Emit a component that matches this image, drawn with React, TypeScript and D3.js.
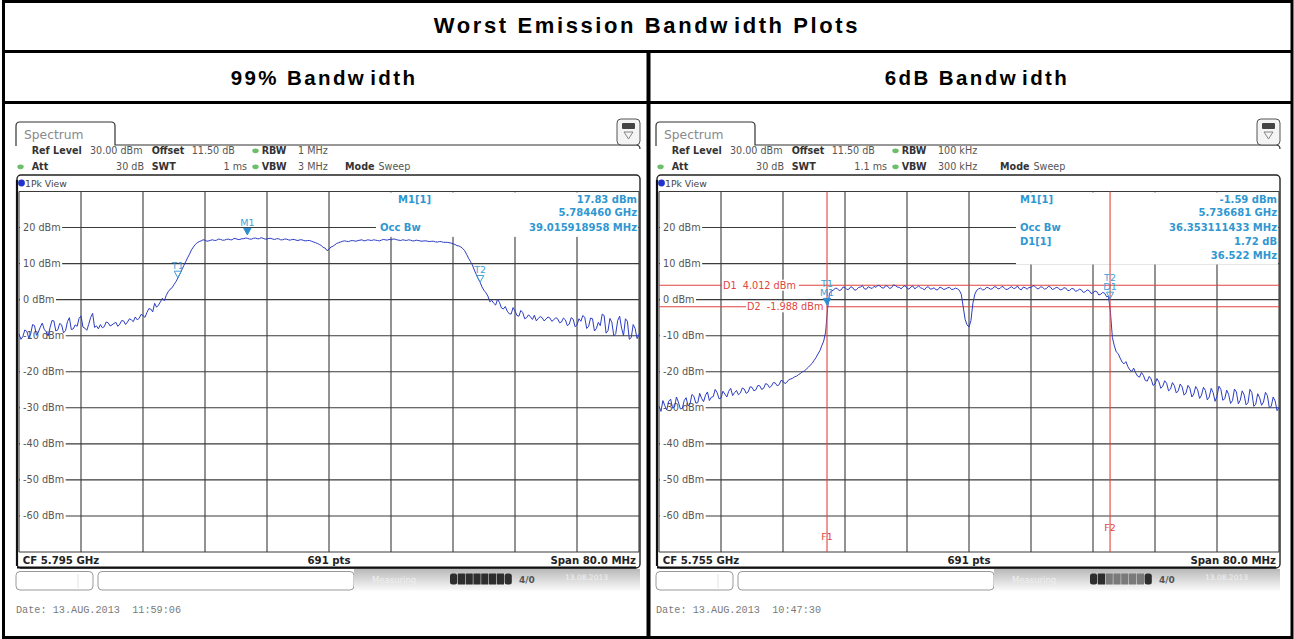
import React from "react";
import * as d3 from "d3";

// ---------- data ----------
const titleText = ["Worst Emission Bandw", "idth Plots"];
const columnTitles = [["99% Bandw", "idth"], ["6dB Bandw", "idth"]];
const yTickValues = [20, 10, 0, -10, -20, -30, -40, -50, -60];
const levelRange = [-70, 30];
const spanMHz = [-40, 40];
const stepMHz = 0.25;
const xDivisions = 10;

// 99% bandwidth trace (dBm), CF 5.795 GHz, every 0.25 MHz from -40 to +40 MHz
const trace99 = [
  -9.5, -11.0, -10.2, -8.4, -8.8, -10.6, -9.6, -6.9, -7.2, -9.9,
  -9.0, -7.6, -6.5, -8.2, -8.9, -10.1, -7.8, -5.8, -5.9, -8.7,
  -8.4, -6.6, -7.0, -9.2, -8.6, -6.1, -5.0, -8.3, -8.1, -7.0,
  -7.4, -5.2, -4.5, -7.6, -7.9, -8.5, -6.8, -4.9, -3.8, -7.7,
  -7.3, -8.1, -6.9, -7.8, -7.5, -6.2, -6.4, -7.3, -7.0, -6.6,
  -6.3, -7.4, -6.8, -5.8, -5.9, -6.9, -6.2, -5.3, -5.6, -6.1,
  -4.8, -5.6, -5.2, -4.1, -4.4, -4.9, -3.6, -2.5, -2.6, -3.4,
  -1.0, -2.1, -1.5, -0.6, 0.4, -0.3, 1.2, 2.2, 2.9, 3.3,
  4.2, 5.0, 6.0, 7.1, 8.2, 9.4, 10.5, 11.6, 12.6, 13.8,
  14.6, 15.3, 15.8, 16.1, 16.3, 16.6, 16.5, 16.2, 16.3, 16.5,
  16.6, 16.4, 16.5, 16.8, 16.7, 16.5, 16.5, 16.7, 16.8, 16.6,
  16.6, 17.0, 16.9, 16.7, 16.7, 16.9, 16.9, 17.1, 17.0, 16.8,
  16.8, 17.0, 17.1, 16.9, 16.9, 17.2, 17.0, 16.8, 16.8, 17.0,
  17.0, 16.8, 16.7, 16.9, 16.9, 16.6, 16.6, 16.8, 16.8, 16.6,
  16.5, 16.7, 16.7, 16.5, 16.4, 16.6, 16.6, 16.4, 16.3, 16.4,
  16.4, 16.2, 16.0, 15.8, 15.6, 15.3, 15.0, 14.5, 14.3, 13.6,
  14.0, 14.6, 14.8, 15.2, 15.6, 15.8, 16.0, 16.2, 16.3, 16.2,
  16.1, 16.3, 16.4, 16.3, 16.2, 16.4, 16.5, 16.6, 16.3, 16.4,
  16.6, 16.5, 16.4, 16.6, 16.5, 16.4, 16.3, 16.5, 16.7, 16.6,
  16.5, 16.7, 16.6, 16.8, 16.8, 16.6, 16.5, 16.4, 16.6, 16.5,
  16.4, 16.6, 16.5, 16.3, 16.3, 16.5, 16.4, 16.3, 16.2, 16.3,
  16.3, 16.2, 16.1, 16.2, 16.2, 16.0, 16.0, 16.1, 16.1, 15.9,
  15.9, 15.9, 15.8, 15.7, 15.5, 15.3, 15.0, 14.9, 14.6, 14.2,
  13.6, 12.6, 11.5, 10.6, 9.6, 8.2, 7.0, 5.8, 4.8, 3.5,
  2.6, 1.9, 1.0, -0.6, -0.2, -1.0, -1.5, 0.1, -0.8, -2.3,
  -2.6, -1.9, -3.2, -3.9, -4.0, -2.2, -3.1, -4.4, -4.6, -3.0,
  -3.6, -5.3, -5.0, -4.2, -4.8, -5.5, -4.3, -5.9, -5.2, -4.7,
  -5.0, -5.9, -5.4, -4.8, -5.1, -6.0, -5.6, -5.0, -5.3, -6.4,
  -6.2, -5.1, -5.6, -7.2, -6.8, -5.0, -5.4, -7.5, -7.0, -5.3,
  -6.0, -4.4, -4.9, -8.0, -7.4, -5.1, -5.3, -8.7, -8.0, -6.3,
  -7.2, -4.0, -4.4, -9.3, -8.6, -5.2, -6.3, -10.1, -9.4, -5.8,
  -4.6, -7.9, -10.0, -5.3, -6.0, -11.0, -10.5, -6.9, -8.0, -10.8,
  -9.6,
];

// 6 dB bandwidth trace (dBm), CF 5.755 GHz, every 0.25 MHz from -40 to +40 MHz
const trace6dB = [
  -29.5, -31.0, -28.0, -29.4, -30.6, -28.2, -27.6, -30.1, -29.8, -27.0,
  -28.4, -30.3, -30.2, -28.0, -27.2, -29.5, -28.9, -26.3, -26.8, -28.7,
  -28.6, -26.0, -27.4, -28.3, -26.5, -25.6, -28.0, -27.1, -26.9, -24.9,
  -25.8, -27.5, -27.3, -25.4, -26.2, -27.0, -25.4, -24.6, -26.6, -25.8,
  -25.2, -26.4, -25.9, -24.5, -24.8, -26.0, -25.6, -24.2, -24.3, -25.3,
  -25.0, -23.8, -23.9, -24.9, -24.6, -23.3, -23.5, -24.4, -24.0, -23.0,
  -23.1, -23.9, -23.6, -22.4, -22.6, -23.3, -22.9, -22.2, -22.0, -21.8,
  -21.4, -21.2, -20.8, -20.5, -20.0, -19.8, -19.3, -18.8, -18.2, -17.7,
  -16.9, -16.1, -15.1, -14.2, -12.8, -11.5, -9.0, -2.5, 1.8, 2.4,
  2.6, 3.2, 3.1, 2.5, 2.7, 3.5, 3.4, 2.8, 2.9, 3.6,
  3.3, 2.6, 2.8, 3.4, 3.5, 3.9, 3.0, 2.9, 3.6, 3.3,
  3.1, 3.7, 3.4, 4.0, 3.8, 3.3, 3.2, 3.9, 3.7, 3.1,
  3.3, 4.1, 3.9, 3.5, 3.4, 3.0, 3.6, 3.9, 3.2, 2.9,
  3.5, 3.8, 3.0, 3.4, 3.8, 3.3, 3.1, 2.7, 3.4, 3.6,
  2.9, 3.0, 3.3, 2.7, 2.8, 3.5, 3.2, 2.8, 3.0, 3.3,
  3.4, 2.8, 2.9, 3.2, 3.0, 2.6, 1.5, -2.0, -5.5, -7.0,
  -7.6, -5.8, -1.0, 1.5, 2.6, 3.0, 3.2, 2.7, 2.8, 3.4,
  3.3, 2.9, 3.0, 3.6, 3.5, 3.0, 3.1, 3.7, 3.4, 2.8,
  2.9, 3.3, 3.6, 3.1, 3.2, 3.8, 3.0, 2.7, 3.5, 3.3,
  2.9, 3.4, 3.3, 3.9, 3.7, 3.1, 3.0, 3.6, 3.4, 2.9,
  3.1, 3.7, 3.5, 2.8, 3.0, 3.4, 3.3, 2.7, 2.8, 3.3,
  3.2, 2.5, 2.6, 3.1, 3.0, 2.3, 2.5, 2.9, 2.7, 2.0,
  2.2, 2.7, 2.5, 1.7, 1.9, 2.4, 2.2, 1.3, 1.5, 2.0,
  1.8, 0.8, 0.9, -3.5, -10.5, -12.8, -14.5, -15.0, -16.2, -17.3,
  -17.8, -17.2, -18.6, -19.5, -19.9, -19.0, -20.3, -21.2, -21.5, -20.2,
  -21.0, -22.4, -22.6, -21.3, -22.0, -23.8, -23.4, -21.9, -22.8, -24.6,
  -24.0, -22.5, -23.2, -25.3, -24.8, -23.0, -23.9, -25.9, -25.3, -23.4,
  -24.2, -26.5, -25.9, -23.8, -24.6, -27.0, -26.2, -24.1, -25.0, -27.4,
  -26.5, -24.3, -25.2, -27.8, -27.0, -24.6, -25.8, -28.2, -26.8, -24.0,
  -24.9, -27.9, -27.5, -25.1, -26.3, -28.8, -28.0, -24.8, -25.6, -28.9,
  -27.9, -25.3, -26.4, -29.2, -28.6, -24.9, -25.8, -29.6, -29.0, -26.1,
  -27.2, -29.3, -28.4, -25.7, -26.6, -30.0, -29.6, -27.0, -28.1, -30.8,
  -29.9,
];

// markers
const markers99 = [
  { labels: ["M1"], f: -10.54, level: 17.83, filled: true },
  { labels: ["T1"], f: -19.51, level: null, filled: false },
  { labels: ["T2"], f: 19.51, level: null, filled: false },
];
const markers6dB = [
  { labels: ["T1", "M1"], f: -18.32, level: -1.59, filled: true },
  { labels: ["T2", "D1"], f: 18.2, level: 0.13, filled: false },
];
const displayLines6dB = [
  { name: "D1", level: 4.012, text: "D1  4.012 dBm" },
  { name: "D2", level: -1.988, text: "D2  -1.988 dBm" },
];
const freqLines6dB = [
  { name: "F1", f: -18.32 },
  { name: "F2", f: 18.2 },
];

const info99 = [
  { left: "M1[1]", right: "17.83 dBm" },
  { left: "", right: "5.784460 GHz" },
  { left: "Occ Bw", right: "39.015918958 MHz" },
];
const info6dB = [
  { left: "M1[1]", right: "-1.59 dBm" },
  { left: "", right: "5.736681 GHz" },
  { left: "Occ Bw", right: "36.353111433 MHz" },
  { left: "D1[1]", right: "1.72 dB" },
  { left: "", right: "36.522 MHz" },
];

const setup99 = {
  refLevel: "30.00 dBm", att: "30 dB", offset: "11.50 dB", swt: "1 ms",
  rbw: "1 MHz", vbw: "3 MHz", cf: "CF 5.795 GHz", pts: "691 pts",
  span: "Span 80.0 MHz", date: "Date: 13.AUG.2013  11:59:06",
};
const setup6dB = {
  refLevel: "30.00 dBm", att: "30 dB", offset: "11.50 dB", swt: "1.1 ms",
  rbw: "100 kHz", vbw: "300 kHz", cf: "CF 5.755 GHz", pts: "691 pts",
  span: "Span 80.0 MHz", date: "Date: 13.AUG.2013  10:47:30",
};

// ---------- helpers ----------
const SANS = "'DejaVu Sans', Verdana, sans-serif";
const widths: Record<string, number> = {
  "0": 0.636, "1": 0.636, "2": 0.636, "3": 0.636, "4": 0.636, "5": 0.636,
  "6": 0.636, "7": 0.636, "8": 0.636, "9": 0.636, " ": 0.318, ".": 0.318,
  "-": 0.361, d: 0.635, B: 0.686, m: 0.974, D: 0.77,
};
function textW(s: string, size: number) {
  let w = 0;
  for (const c of s) w += widths[c] ?? 0.62;
  return w * size;
}
function valueAt(trace: number[], f: number) {
  const idx = (f - spanMHz[0]) / stepMHz;
  const i0 = Math.max(0, Math.min(trace.length - 2, Math.floor(idx)));
  const t = idx - i0;
  return trace[i0] * (1 - t) + trace[i0 + 1] * t;
}

const TRACE = "#2b3cc4";
const MARK = "#3f9fd6";
const RED = "#e0453f";
const INFO = "#2f97d2";

type PanelProps = {
  ox: number;
  trace: number[];
  setup: typeof setup99;
  info: { left: string; right: string }[];
  infoLeftX: number;
  infoM1X: number;
  infoBoxLeft: number;
  markers: typeof markers99;
  showLines: boolean;
  progressDark: number;
  modeX: number;
};

function Panel(p: PanelProps) {
  const { ox } = p;
  const x0 = 19 + ox;
  const x1 = 639 + ox;
  const yTop = 191.5;
  const yBot = 552;
  const xs = d3.scaleLinear().domain(spanMHz).range([x0, x1]);
  const ys = d3.scaleLinear().domain(levelRange).range([yBot, yTop]);
  const line = d3
    .line<number>()
    .x((_, i) => xs(spanMHz[0] + stepMHz * i))
    .y((d) => ys(d));
  const vGrid = d3.range(xDivisions + 1).map((k) => spanMHz[0] + (k * (spanMHz[1] - spanMHz[0])) / xDivisions);
  const hGrid = d3.range(levelRange[0], levelRange[1] + 1, 10);
  const infoBottom = yTop + 4 + p.info.length * 13.8;
  const s = p.setup;
  const hdrBold = { fontFamily: SANS, fontSize: 9.6, fontWeight: 700, fill: "#333" } as const;
  const hdrVal = { fontFamily: SANS, fontSize: 9.6, fill: "#555" } as const;
  const gid = `grad${ox}`;
  const infoStyle = { fontFamily: SANS, fontSize: 10, fontWeight: 700, fill: INFO } as const;

  return (
    <g>
      <defs>
        <linearGradient id={gid} x1="0" y1="0" x2="0" y2="1">
          <stop offset="0" stopColor="#b9b9b9" />
          <stop offset="0.55" stopColor="#dedede" />
          <stop offset="1" stopColor="#fbfbfb" />
        </linearGradient>
      </defs>
      {/* tab + header */}
      <path
        d={`M${ox + 16},146 L${ox + 16},126 Q${ox + 16},122 ${ox + 20},122 L${ox + 111},122 Q${ox + 115},122 ${ox + 115},126 L${ox + 115},145 L${ox + 636},145 Q${ox + 640},145 ${ox + 640},149`}
        fill="none"
        stroke="#333"
        strokeWidth={1.2}
      />
      <text x={ox + 24} y={138.5} style={{ fontFamily: SANS, fontSize: 12.3, fill: "#8a8a8a" }}>
        Spectrum
      </text>
      {/* icon */}
      <rect x={ox + 617} y={119} width={23} height={26} rx={4} fill="#f4f4f4" stroke="#555" strokeWidth={1} />
      <rect x={ox + 622} y={123} width={13} height={6} rx={1} fill="#444" />
      <path d={`M${ox + 624},132 L${ox + 633},132 L${ox + 628.5},139 Z`} fill="none" stroke="#777" strokeWidth={0.9} />

      <text x={ox + 31.7} y={154} style={hdrBold}>Ref Level</text>
      <text x={ox + 90} y={154} style={hdrVal}>{s.refLevel}</text>
      <text x={ox + 151.7} y={154} style={hdrBold}>Offset</text>
      <text x={ox + 191.7} y={154} style={hdrVal}>{s.offset}</text>
      <text x={ox + 261.7} y={154} style={hdrBold}>RBW</text>
      <text x={ox + 298} y={154} style={hdrVal}>{s.rbw}</text>
      <text x={ox + 31.7} y={170} style={hdrBold}>Att</text>
      <text x={ox + 144} y={170} textAnchor="end" style={hdrVal}>{s.att}</text>
      <text x={ox + 151.7} y={170} style={hdrBold}>SWT</text>
      <text x={ox + 247} y={170} textAnchor="end" style={hdrVal}>{s.swt}</text>
      <text x={ox + 261.7} y={170} style={hdrBold}>VBW</text>
      <text x={ox + 298} y={170} style={hdrVal}>{s.vbw}</text>
      <text x={p.modeX} y={170} style={hdrBold}>Mode</text>
      <text x={p.modeX + 33.5} y={170} style={hdrVal}>Sweep</text>
      {[[ox + 255.5, 150.8], [ox + 255.5, 166.8], [ox + 20.5, 166.8]].map(([cx, cy], i) => (
        <ellipse key={i} cx={cx} cy={cy} rx={3.2} ry={2.4} fill="#6cbf6a" />
      ))}

      {/* plot frame */}
      <rect x={ox + 17} y={175} width={623} height={393} rx={4} fill="#fff" stroke="#222" strokeWidth={1.4} />
      <line x1={ox + 17} y1={567.5} x2={ox + 636} y2={567.5} stroke="#111" strokeWidth={2} />
      <line x1={ox + 17} y1={180} x2={ox + 17} y2={566} stroke="#111" strokeWidth={2.2} />
      <circle cx={ox + 21.5} cy={183} r={3.4} fill="#2233cc" />
      <text x={ox + 25} y={186.5} style={{ fontFamily: SANS, fontSize: 9.3, fill: "#444" }}>1Pk View</text>

      {/* grid */}
      {vGrid.map((v) => (
        <line key={`v${v}`} x1={xs(v)} x2={xs(v)} y1={yTop} y2={yBot} stroke="#3a3a3a" strokeWidth={1.1} />
      ))}
      {hGrid.map((v) => (
        <line key={`h${v}`} x1={x0} x2={x1} y1={ys(v)} y2={ys(v)} stroke="#3a3a3a" strokeWidth={1.1} />
      ))}
      {/* y labels */}
      {yTickValues.map((v) => {
        const t = `${v} dBm`;
        return (
          <g key={`yl${v}`}>
            <rect x={x0 + 1} y={ys(v) - 6} width={textW(t, 9.7) + 4.5} height={12} fill="#fff" />
            <text x={x0 + 4} y={ys(v) + 3.4} style={{ fontFamily: SANS, fontSize: 9.7, fill: "#555" }}>
              {t}
            </text>
          </g>
        );
      })}

      {/* info box */}
      <rect x={p.infoBoxLeft} y={yTop + 1} width={x1 - p.infoBoxLeft - 1} height={infoBottom - yTop - 1} fill="#fff" />
      {p.info.map((r, i) => {
        const yy = yTop + 11 + i * 13.8 + (i >= 2 ? 1 : 0);
        return (
          <g key={`inf${i}`}>
            {r.left && (
              <text x={r.left === "M1[1]" ? p.infoM1X : p.infoLeftX} y={yy} style={infoStyle}>
                {r.left}
              </text>
            )}
            <text x={x1 - 2} y={yy} textAnchor="end" style={infoStyle}>
              {r.right}
            </text>
          </g>
        );
      })}

      {/* display lines */}
      {p.showLines &&
        displayLines6dB.map((d, k) => {
          const yy = ys(d.level);
          const lx = k === 0 ? x0 + 64 : x0 + 88;
          const tw = textW(d.text, 9.7) + 4;
          return (
            <g key={d.name}>
              <line x1={x0} x2={x1} y1={yy} y2={yy} stroke={RED} strokeWidth={1.1} />
              <rect x={lx - 1} y={yy - 5.5} width={tw} height={11} fill="#fff" />
              <text x={lx} y={yy + 3.4} style={{ fontFamily: SANS, fontSize: 9.7, fill: RED, whiteSpace: "pre" }}>
                {d.text}
              </text>
            </g>
          );
        })}

      {/* trace */}
      <path d={line(p.trace) || ""} fill="none" stroke={TRACE} strokeWidth={1} strokeLinejoin="round" />

      {p.showLines &&
        freqLines6dB.map((fl, k) => (
          <g key={fl.name}>
            <line x1={xs(fl.f)} x2={xs(fl.f)} y1={yTop} y2={yBot} stroke={RED} strokeWidth={1.1} />
            <text
              x={xs(fl.f)}
              y={k === 0 ? 540 : 531}
              textAnchor="middle"
              style={{ fontFamily: SANS, fontSize: 9.5, fill: RED }}
            >
              {fl.name}
            </text>
          </g>
        ))}

      {/* markers */}
      {p.markers.map((m, k) => {
        const v = m.level ?? valueAt(p.trace, m.f);
        const mx = xs(m.f);
        const tip = ys(v) - 0.5;
        return (
          <g key={`m${k}`}>
            <path
              d={`M${mx - 3.6},${tip - 6.5} L${mx + 3.6},${tip - 6.5} L${mx},${tip} Z`}
              fill={m.filled ? "#2a8fd2" : "none"}
              stroke={m.filled ? "#2a8fd2" : MARK}
              strokeWidth={1}
            />
            {m.labels
              .slice()
              .reverse()
              .map((lb, j) => (
                <text
                  key={lb}
                  x={mx}
                  y={tip - 9 - j * 9}
                  textAnchor="middle"
                  style={{ fontFamily: SANS, fontSize: 9.5, fill: MARK }}
                >
                  {lb}
                </text>
              ))}
          </g>
        );
      })}

      {/* bottom row */}
      <text x={x0 + 3.7} y={563.5} style={{ fontFamily: SANS, fontSize: 10.2, fontWeight: 700, fill: "#222" }}>
        {s.cf}
      </text>
      <text x={xs(0)} y={563.5} textAnchor="middle" style={{ fontFamily: SANS, fontSize: 10.2, fontWeight: 700, fill: "#222" }}>
        {s.pts}
      </text>
      <text x={x1 - 3} y={563.5} textAnchor="end" style={{ fontFamily: SANS, fontSize: 10.2, fontWeight: 700, fill: "#222" }}>
        {s.span}
      </text>

      {/* status bar */}
      <rect x={ox + 16} y={571.5} width={77} height={18.5} rx={4} fill="#fff" stroke="#9a9a9a" strokeWidth={1} />
      <line x1={ox + 78} x2={ox + 78} y1={574} y2={588} stroke="#e2e2e2" />
      <rect x={ox + 98} y={571.5} width={256} height={18.5} rx={4} fill="#fff" stroke="#9a9a9a" strokeWidth={1} />
      <rect x={ox + 354} y={569} width={286} height={22} fill={`url(#${gid})`} />
      <text x={ox + 372} y={583} style={{ fontFamily: SANS, fontSize: 8.5, fill: "#efefef" }}>Measuring</text>
      {d3.range(8).map((k) => (
        <rect
          key={`pb${k}`}
          x={ox + 450 + k * 7.8}
          y={573.5}
          width={7.2}
          height={11}
          rx={k === 0 || k === 7 ? 2.5 : 0.5}
          fill={k < p.progressDark || k === 7 ? "#2e2e2e" : "#7a7a7a"}
        />
      ))}
      <text x={ox + 519} y={583} style={{ fontFamily: SANS, fontSize: 9, fontWeight: 700, fill: "#555" }}>4/0</text>
      <text x={ox + 565} y={580} style={{ fontFamily: SANS, fontSize: 7.5, fill: "#f0f0f0" }}>13.08.2013</text>

      {/* date */}
      <text
        x={ox + 16}
        y={613}
        style={{ fontFamily: "'Liberation Mono', 'DejaVu Sans Mono', monospace", fontSize: 10.2, fill: "#7a7a7a", whiteSpace: "pre" }}
      >
        {s.date}
      </text>
    </g>
  );
}

export default function App() {
  const W = 1294;
  const H = 639;
  const titleStyle = { fontFamily: "'Liberation Sans', Arial, sans-serif", fontWeight: 700, fill: "#000" } as const;
  return (
    <svg width={W} height={H} style={{ position: "absolute", left: 0, top: 0, background: "#fff" }}>
      <rect x={0} y={0} width={W} height={H} fill="#fff" />
      <Panel
        ox={0}
        trace={trace99}
        setup={setup99}
        info={info99}
        infoLeftX={380}
        infoM1X={398}
        infoBoxLeft={376}
        markers={markers99}
        showLines={false}
        progressDark={8}
        modeX={345}
      />
      <Panel
        ox={640}
        trace={trace6dB}
        setup={setup6dB}
        info={info6dB}
        infoLeftX={1020}
        infoM1X={1020}
        infoBoxLeft={1016}
        markers={markers6dB}
        showLines={true}
        progressDark={2}
        modeX={1000}
      />
      {/* table */}
      <text x={647} y={33} textAnchor="middle" style={{ ...titleStyle, fontSize: 22, letterSpacing: 2.6, whiteSpace: "pre" }}>
        {titleText[0]}
        <tspan dx={4}>{titleText[1]}</tspan>
      </text>
      {columnTitles.map((ct, i) => (
        <text key={i} x={i === 0 ? 324 : 977} y={85} textAnchor="middle" style={{ ...titleStyle, fontSize: 20.5, letterSpacing: 2.4 }}>
          {ct[0]}
          <tspan dx={4}>{ct[1]}</tspan>
        </text>
      ))}
      <rect x={3.5} y={1.5} width={1288.5} height={636} fill="none" stroke="#000" strokeWidth={3} />
      <line x1={2} x2={1293} y1={51.5} y2={51.5} stroke="#000" strokeWidth={3} />
      <line x1={2} x2={1293} y1={102.5} y2={102.5} stroke="#000" strokeWidth={3} />
      <line x1={648.5} x2={648.5} y1={51} y2={638} stroke="#000" strokeWidth={4} />
    </svg>
  );
}
